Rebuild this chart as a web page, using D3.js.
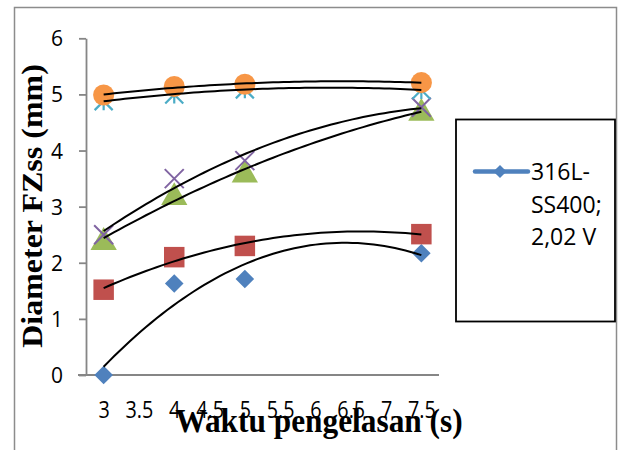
<!DOCTYPE html>
<html>
<head>
<meta charset="utf-8">
<script src="https://cdn.jsdelivr.net/npm/d3@7"></script>
<style>
  html, body { margin: 0; padding: 0; background: #fff; }
  svg { display: block; }
</style>
</head>
<body>
<svg id="chart" width="619" height="450"></svg>
<script>
// Welding time (s) at which the fusion-zone diameter was measured
const waktu = [3, 4, 5, 7.5];

// Fusion-zone diameter (mm) for each specimen series
const seriesBlue   = [0, 1.63, 1.71, 2.17];
const seriesRed    = [1.52, 2.10, 2.30, 2.51];
const seriesGreen  = [2.40, 3.20, 3.60, 4.70];
const seriesPurple = [2.50, 3.50, 3.82, 4.77];
const seriesCyan   = [4.88, 5.00, 5.09, 5.08];
const seriesOrange = [4.99, 5.14, 5.18, 5.21];

const xTicks = [3, 3.5, 4, 4.5, 5, 5.5, 6, 6.5, 7, 7.5];
const yTicks = [0, 1, 2, 3, 4, 5, 6];

const legendLabel = ["316L-", "SS400;", "2,02 V"];

const series = [
  { values: seriesBlue,   color: "#4F81BD", marker: "diamond" },
  { values: seriesRed,    color: "#C0504D", marker: "square" },
  { values: seriesGreen,  color: "#9BBB59", marker: "triangle" },
  { values: seriesPurple, color: "#8064A2", marker: "cross" },
  { values: seriesCyan,   color: "#4BACC6", marker: "asterisk" },
  { values: seriesOrange, color: "#F79646", marker: "circle" }
];

const svg = d3.select("#chart");

// chart area border
svg.append("rect")
  .attr("x", 14.5).attr("y", 7.5)
  .attr("width", 602).attr("height", 460)
  .attr("fill", "#fff").attr("stroke", "#8c8c8c").attr("stroke-width", 1.5);

const x = d3.scaleLinear().domain([2.75, 7.75]).range([86, 439]);
const y = d3.scaleLinear().domain([0, 6]).range([375, 38.3]);

const axisColor = "#868686";
const tickFont = "'Open Sans', 'Noto Sans', sans-serif";

// y axis
const gy = svg.append("g").attr("transform", "translate(86,0)")
  .call(d3.axisLeft(y).tickValues(yTicks).tickFormat(d3.format("d"))
    .tickSize(7).tickSizeOuter(0).tickPadding(16));
gy.select(".domain").attr("stroke", axisColor).attr("stroke-width", 1.8);
gy.selectAll(".tick line").attr("stroke", axisColor).attr("stroke-width", 1.8);
gy.selectAll(".tick text")
  .attr("font-family", tickFont).attr("font-size", 21).attr("fill", "#000")
  .attr("dy", "0.36em");

// x axis
const gx = svg.append("g").attr("transform", `translate(0,${y(0)})`)
  .call(d3.axisBottom(x).tickValues(xTicks).tickFormat(d => String(d))
    .tickSize(0).tickSizeOuter(0));
gx.select(".domain").attr("stroke", axisColor).attr("stroke-width", 1.8)
  .attr("d", `M${x(2.75) - 8},0H${x(7.75)}`);
gx.selectAll(".tick text")
  .attr("font-family", tickFont).attr("font-size", 23).attr("fill", "#000")
  .attr("y", 43).attr("dy", 0)
  .attr("transform", "scale(0.86,1)");

// markers
const symbolPath = {
  diamond:  d3.symbol(d3.symbolDiamond2, 220)(),
  square:   d3.symbol(d3.symbolSquare, 420)(),
  triangle: d3.symbol(d3.symbolTriangle, 300)(),
  circle:   d3.symbol(d3.symbolCircle, 350)()
};

const plot = svg.append("g");

series.forEach(s => {
  const pts = waktu.map((w, i) => [x(w), y(s.values[i])]);
  const g = plot.append("g");
  pts.forEach(([px, py]) => {
    if (s.marker === "cross") {
      const r = 9.5;
      g.append("path")
        .attr("d", `M${px - r},${py - r}L${px + r},${py + r}M${px - r},${py + r}L${px + r},${py - r}`)
        .attr("stroke", s.color).attr("stroke-width", 2).attr("fill", "none");
    } else if (s.marker === "asterisk") {
      const r = 9;
      g.append("path")
        .attr("d", `M${px - r},${py - r}L${px + r},${py + r}M${px - r},${py + r}L${px + r},${py - r}M${px},${py - r}L${px},${py + r}`)
        .attr("stroke", s.color).attr("stroke-width", 2.2).attr("fill", "none");
    } else {
      let dy = 0;
      if (s.marker === "triangle") dy = 2;
      g.append("path")
        .attr("d", symbolPath[s.marker])
        .attr("transform", `translate(${px},${py + dy})`)
        .attr("fill", s.color);
    }
  });
});

// second-order polynomial trend line through each series
function quadFit(xs, ys) {
  let s = [0, 0, 0, 0, 0], t = [0, 0, 0];
  xs.forEach((xv, i) => {
    let p = 1;
    for (let k = 0; k < 5; k++) { s[k] += p; p *= xv; }
    t[0] += ys[i]; t[1] += ys[i] * xv; t[2] += ys[i] * xv * xv;
  });
  const A = [[s[0], s[1], s[2], t[0]], [s[1], s[2], s[3], t[1]], [s[2], s[3], s[4], t[2]]];
  for (let c = 0; c < 3; c++) {
    for (let r = c + 1; r < 3; r++) {
      const f = A[r][c] / A[c][c];
      for (let k = c; k < 4; k++) A[r][k] -= f * A[c][k];
    }
  }
  const b = [0, 0, 0];
  for (let r = 2; r >= 0; r--) {
    let v = A[r][3];
    for (let k = r + 1; k < 3; k++) v -= A[r][k] * b[k];
    b[r] = v / A[r][r];
  }
  return xv => b[0] + b[1] * xv + b[2] * xv * xv;
}

const line = d3.line().x(d => x(d[0])).y(d => y(d[1])).curve(d3.curveLinear);
const xMin = d3.min(waktu), xMax = d3.max(waktu);
series.forEach(s => {
  const f = quadFit(waktu, s.values);
  const samples = d3.range(0, 61).map(i => {
    const xv = xMin + (xMax - xMin) * i / 60;
    return [xv, f(xv)];
  });
  plot.append("path")
    .attr("d", line(samples))
    .attr("fill", "none").attr("stroke", "#000").attr("stroke-width", 2);
});

// axis titles
svg.append("text")
  .attr("transform", "translate(319,432) scale(0.95,1)")
  .attr("text-anchor", "middle")
  .attr("font-family", "'Liberation Serif', 'Times New Roman', serif")
  .attr("font-weight", "bold").attr("font-size", 33)
  .text("Waktu pengelasan (s)");

svg.append("text")
  .attr("transform", "translate(42,206) rotate(-90) scale(1,0.9)")
  .attr("text-anchor", "middle")
  .attr("font-family", "'Liberation Serif', 'Times New Roman', serif")
  .attr("font-weight", "bold").attr("font-size", 32)
  .text("Diameter FZss (mm)");

// legend
const lg = svg.append("g");
lg.append("rect")
  .attr("x", 456).attr("y", 119.5).attr("width", 159).attr("height", 202)
  .attr("fill", "#fff").attr("stroke", "#000").attr("stroke-width", 1.8);
lg.append("line")
  .attr("x1", 475).attr("x2", 528).attr("y1", 171.5).attr("y2", 171.5)
  .attr("stroke", series[0].color).attr("stroke-width", 4.5).attr("stroke-linecap", "round");
lg.append("path")
  .attr("d", d3.symbol(d3.symbolDiamond2, 110)())
  .attr("transform", "translate(500,171.5)")
  .attr("fill", series[0].color);
lg.selectAll("text.lbl").data(legendLabel).join("text")
  .attr("class", "lbl")
  .attr("x", 531).attr("y", (d, i) => 180 + i * 32.5)
  .attr("font-family", tickFont).attr("font-size", 23).attr("fill", "#000")
  .text(d => d);
</script>
</body>
</html>
